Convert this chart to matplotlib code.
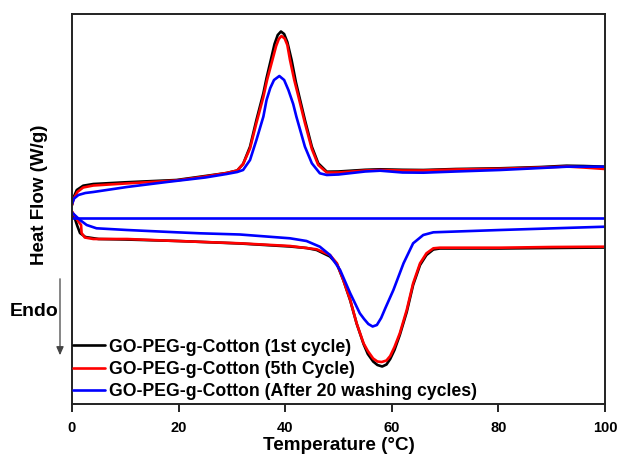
import matplotlib
matplotlib.use("Agg")
import matplotlib.pyplot as plt
from matplotlib.patches import FancyArrowPatch

plt.rcParams['font.family'] = ['Liberation Sans', 'DejaVu Sans']
plt.rcParams['font.weight'] = 'bold'

# Heat flow in arbitrary units (no y scale shown in the original)
def hf(p):
    return [(404 - v) / 100 for v in p]

# Cooling (exothermic) curves
x_up_black = [0, 0.25, 0.9, 2.1, 4, 10, 19.6, 25, 29, 31, 32.1, 33.4, 34.6, 35.9, 36.5, 37.3, 38.0, 38.6, 39.2,
              39.8, 40.4, 41.2, 42.0, 42.5, 43.7, 45, 46.2, 47.8, 50, 55, 57.8, 62, 65.9, 72, 80.3, 88, 92.8, 96, 100]
y_up_black = hf([205, 198, 190, 185.7, 184, 182.3, 180, 176, 173, 170.5, 164, 146.7, 120, 93.3, 78, 60, 44, 35, 31.5,
                 34, 42, 60, 82, 93.3, 120, 146.7, 163.3, 171.7, 171.5, 169.8, 169.3, 169.8, 170, 169, 168.3, 167, 165.7, 166, 166.7])

x_up_red = [0, 0.3, 1, 2.1, 4, 10, 19.6, 25, 29, 31, 32.1, 33.4, 34.6, 35.9, 36.6, 37.6, 38.3, 38.8, 39.3,
            39.9, 40.4, 40.9, 41.7, 42.5, 43.7, 45, 46.2, 47.8, 50, 55, 57.8, 62, 65.9, 72, 80.3, 88, 92.8, 96, 100]
y_up_red = hf([205, 199, 192, 187.5, 185.5, 183.5, 180.5, 176.5, 173, 170.5, 164, 148.5, 123, 97, 80, 60, 46, 39, 36,
               38.5, 45, 60, 80, 97, 123, 149, 165, 172.5, 172.5, 170.5, 170, 170.5, 170.5, 169.5, 168.8, 167.5, 166.5, 167.5, 169])

x_up_blue = [0, 0.4, 1.2, 2.5, 4, 10.3, 17.8, 25, 29, 31, 32.1, 33.4, 34.6, 35.9, 36.5, 37.2, 37.9, 38.9,
             39.8, 40.6, 41.5, 42.1, 43.7, 45, 46.5, 47.8, 50, 55, 57.8, 62, 65.9, 72, 80.3, 88, 92.8, 100]
y_up_blue = hf([204, 198.5, 195, 193, 192, 187, 182, 177.5, 174, 172, 170, 160, 140, 116.7, 100, 88, 80, 76,
                80, 90, 104, 116.7, 146.7, 163.3, 173.3, 175, 174.5, 171.5, 170.7, 172.5, 172.7, 171.5, 170, 168, 166.7, 166.7])

# Heating (endothermic) curves
x_lo_black = [0, 0.5, 1, 1.5, 2.5, 5, 10, 20, 31.5, 40.9, 44, 45.9, 48.4, 49.7, 50.9, 52.2, 53.4, 54.7,
              55.5, 56.5, 57.3, 58.2, 59.0, 59.7, 60.5, 61.5, 62.8, 64, 65.3, 66.5, 67.8, 69, 75, 80.3, 90, 100]
y_lo_black = hf([212, 218, 226, 233, 237, 239, 239.5, 241, 243.5, 246.5, 248, 250, 256.5, 264, 280, 300.5, 323.5, 344,
                 354, 361.5, 365, 366.5, 364.5, 359, 350, 335, 312, 285, 265, 255, 249.5, 248.5, 248.5, 248.5, 248, 247.5])

x_lo_red = [0, 0.5, 1.2, 1.7, 1.8, 2.4, 4, 10.3, 19.6, 31.5, 40.9, 45.9, 48.4, 49.7, 50.9, 52.2, 53.4, 54.7,
            55.5, 56.5, 57.3, 58.1, 59.0, 59.7, 60.5, 61.5, 62.8, 64, 65.3, 66.5, 67.8, 69, 80.3, 90, 100]
y_lo_red = hf([211.5, 216, 221.5, 225, 233, 237.5, 239, 239, 241, 243.3, 246, 249.3, 255, 263.3, 280, 300, 323.3, 343.3,
               351, 358.5, 361.5, 362, 360.5, 356, 347, 333.3, 310, 283.3, 263.3, 253.3, 248.3, 247.7, 247.7, 247, 246.7])

x_lo_blue = [0, 0.5, 1.5, 2.75, 4.6, 10.3, 19.6, 24, 31.5, 40.9, 44, 46.5, 48.4, 50.3, 52.2, 54, 54.8, 55.6, 56.4,
             57.2, 58.0, 58.8, 60.3, 62.2, 64, 65.9, 67.8, 80.3, 100]
y_lo_blue = hf([212.5, 215, 220, 225, 228.3, 230, 232.3, 233.3, 234.5, 238.3, 241, 246.7, 255, 270, 293.3, 313.3, 319, 324, 326.5,
                325, 318, 308, 290, 263.3, 243.3, 235, 232.3, 230, 226.7])

x_flat_blue = [0, 100]
y_flat_blue = hf([218.3, 218.3])

labels = ['GO-PEG-g-Cotton (1st cycle)', 'GO-PEG-g-Cotton (5th Cycle)',
          'GO-PEG-g-Cotton (After 20 washing cycles)']
colors = ['#000000', '#ff0000', '#0000ff']

fig = plt.figure(figsize=(6.17, 4.54), dpi=100)
ax = fig.add_axes([72 / 617, 50 / 454, 533 / 617, 390 / 454])

lw = 1.9
kw = dict(lw=lw, solid_joinstyle='round', solid_capstyle='round')
ax.plot(x_up_black, y_up_black, color=colors[0], label=labels[0], **kw)
ax.plot(x_lo_black, y_lo_black, color=colors[0], **kw)
ax.plot(x_up_red, y_up_red, color=colors[1], label=labels[1], **kw)
ax.plot(x_lo_red, y_lo_red, color=colors[1], **kw)
ax.plot(x_up_blue, y_up_blue, color=colors[2], label=labels[2], **kw)
ax.plot(x_lo_blue, y_lo_blue, color=colors[2], **kw)
ax.plot(x_flat_blue, y_flat_blue, color=colors[2], **kw)

ax.set_xlim(0, 100)
ax.set_ylim(0, 3.90)
ax.set_yticks([])
ax.set_xticks([0, 20, 40, 60, 80, 100])
ax.tick_params(axis='x', direction='out', length=6, width=1.2, labelsize=10.5, pad=6)
for lab in ax.get_xticklabels():
    lab.set_fontweight('bold')
for s in ax.spines.values():
    s.set_linewidth(1.4)
    s.set_color('#222222')

ax.set_xlabel('Temperature (°C)', fontsize=13.6, fontweight='bold', labelpad=2)
ax.set_ylabel('Heat Flow (W/g)', fontsize=13.5, fontweight='bold')
ax.yaxis.set_label_coords(-0.045, 0.536)

leg = ax.legend(loc='lower left', bbox_to_anchor=(0.002, 0.010), frameon=False, fontsize=12.7,
                handlelength=1.8, handletextpad=0.22, labelspacing=0.3, borderpad=0.0, borderaxespad=0.0)
for t in leg.get_texts():
    t.set_fontweight('bold')

fig.text(10 / 617, 1 - 311 / 454, 'Endo', fontsize=14, fontweight='bold', va='center', ha='left')
fig.add_artist(FancyArrowPatch(
    (60 / 617, 1 - 276 / 454), (60 / 617, 1 - 358 / 454), transform=fig.transFigure,
    arrowstyle='-|>,head_length=5,head_width=2.2', color='#444444', lw=0.9, mutation_scale=1))

fig.savefig('out.png', dpi=100)
